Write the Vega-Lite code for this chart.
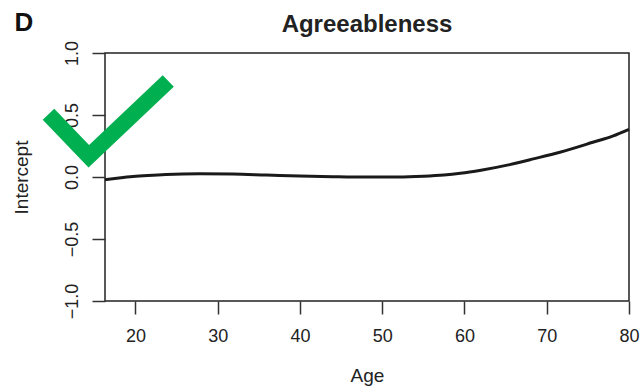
{
  "$schema": "https://vega.github.io/schema/vega-lite/v6.json",
  "width": 524,
  "height": 248,
  "autosize": {"type": "none"},
  "padding": {"left": 105, "top": 53, "right": 12, "bottom": 87},
  "background": "white",
  "config": {"view": {"stroke": "#222", "strokeWidth": 1.5}, "font": "Liberation Sans"},
  "title": {"text": "Agreeableness", "fontSize": 24, "fontWeight": "bold", "font": "Liberation Sans", "color": "#222", "anchor": "middle", "baseline": "alphabetic", "offset": -46},
  "datasets": {
    "curve": [
      {"age": 16.3, "value": -0.022},
      {"age": 18, "value": -0.008},
      {"age": 19.7, "value": 0.004},
      {"age": 21.5, "value": 0.013},
      {"age": 23.7, "value": 0.021},
      {"age": 27.8, "value": 0.026},
      {"age": 31.8, "value": 0.024},
      {"age": 35.9, "value": 0.016},
      {"age": 40, "value": 0.008},
      {"age": 44, "value": 0.003},
      {"age": 48, "value": 0.0},
      {"age": 52, "value": 0.0},
      {"age": 55, "value": 0.006},
      {"age": 57.5, "value": 0.016},
      {"age": 59.5, "value": 0.03},
      {"age": 62, "value": 0.055},
      {"age": 65.5, "value": 0.1},
      {"age": 68.5, "value": 0.148},
      {"age": 71.6, "value": 0.2},
      {"age": 75.6, "value": 0.28},
      {"age": 78, "value": 0.33},
      {"age": 80, "value": 0.385}
    ],
    "check": [
      {"age": 9.43, "value": 0.506},
      {"age": 14.33, "value": 0.167},
      {"age": 23.99, "value": 0.774}
    ]
  },
  "layer": [
    {
      "data": {"name": "curve"},
      "mark": {"type": "line", "interpolate": "monotone", "color": "#1a1a1a", "strokeWidth": 3},
      "encoding": {
        "x": {
          "field": "age", "type": "quantitative",
          "scale": {"domain": [16.3, 80], "nice": false, "zero": false},
          "axis": {
            "title": "Age", "values": [20, 30, 40, 50, 60, 70, 80], "format": "d",
            "grid": false, "domain": false, "tickSize": 13, "tickColor": "#333", "tickWidth": 1.5,
            "labelFontSize": 18, "labelColor": "#222", "labelPadding": 13, "labelFlush": false, "labelOverlap": false,
            "titleFontSize": 19, "titleFontWeight": "normal", "titleColor": "#222",
            "titleY": 80, "titleBaseline": "alphabetic"
          }
        },
        "y": {
          "field": "value", "type": "quantitative",
          "scale": {"domain": [-1, 1], "nice": false, "zero": false},
          "axis": {
            "title": "Intercept", "values": [-1, -0.5, 0, 0.5, 1], "format": ".1f",
            "grid": false, "domain": false, "tickSize": 13, "tickColor": "#333", "tickWidth": 1.5,
            "labelAngle": -90, "labelAlign": "center", "labelBaseline": "alphabetic", "labelPadding": 15,
            "labelFontSize": 18, "labelColor": "#222", "labelFlush": false, "labelOverlap": false,
            "titleFontSize": 19, "titleFontWeight": "normal", "titleColor": "#222",
            "titleX": -78, "titleY": 124, "titleAngle": -90, "titleAlign": "center", "titleBaseline": "alphabetic"
          }
        }
      }
    },
    {
      "data": {"name": "check"},
      "mark": {"type": "line", "color": "#00b050", "strokeWidth": 16, "strokeCap": "butt", "strokeJoin": "miter", "clip": false},
      "encoding": {
        "x": {"field": "age", "type": "quantitative"},
        "y": {"field": "value", "type": "quantitative"}
      }
    },
    {
      "data": {"values": [{"label": "D"}]},
      "mark": {"type": "text", "fontSize": 26, "fontWeight": "bold", "align": "left", "baseline": "alphabetic", "color": "#111", "clip": false},
      "encoding": {
        "x": {"datum": 5.29, "type": "quantitative"},
        "y": {"datum": 1.175, "type": "quantitative"},
        "text": {"field": "label"}
      }
    }
  ]
}
